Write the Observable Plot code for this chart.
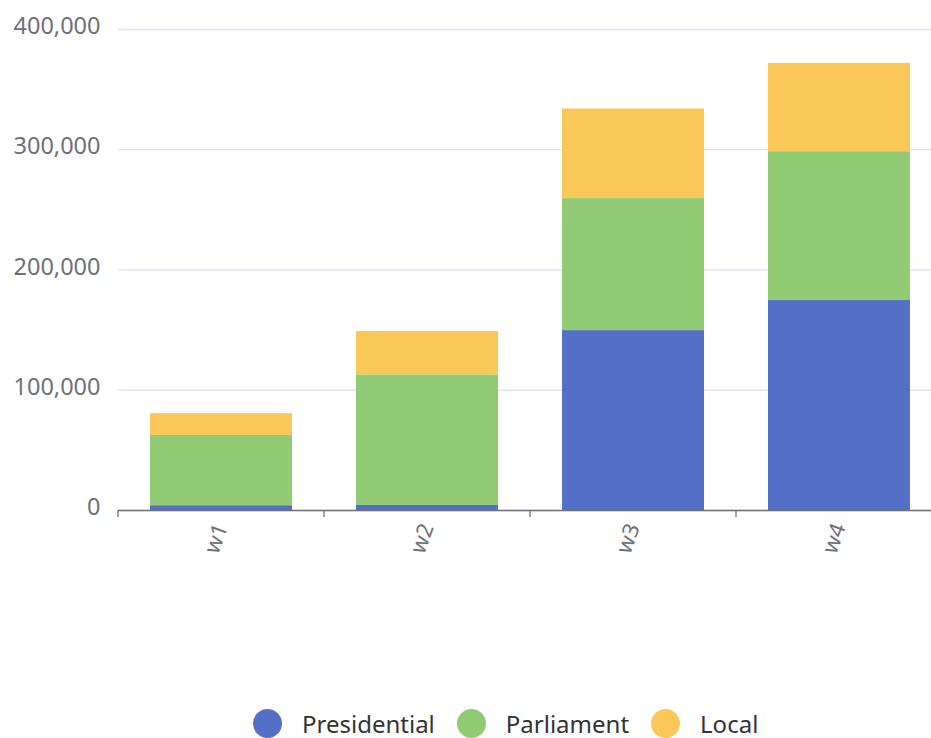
<!DOCTYPE html>
<html>
<head>
<meta charset="utf-8">
<script src="https://cdn.jsdelivr.net/npm/d3@7"></script>
<script src="https://cdn.jsdelivr.net/npm/@observablehq/plot@0.6"></script>
<style>
  html, body { margin: 0; padding: 0; background: #fff; overflow: hidden; }
  body { width: 931px; height: 738px; position: relative; font-family: "Noto Sans", sans-serif; }
  #legend { position: absolute; left: 253px; top: 709px; height: 29px; display: flex; align-items: center; font-size: 24px; line-height: 24px; color: #333; }
  .item { display: flex; align-items: center; margin-right: 22px; }
  .dot { width: 29px; height: 29px; border-radius: 50%; margin-right: 20px; flex: none; }
</style>
</head>
<body>
<div id="chart"></div>
<div id="legend"></div>
<script>
const categories = ["w1", "w2", "w3", "w4"];
const seriesNames = ["Presidential", "Parliament", "Local"];
const seriesColors = ["#5470c6", "#91cc75", "#fac858"];
const presidential = [4000, 4200, 149600, 174600];
const parliament = [58400, 108600, 109800, 123800];
const local = [18100, 36000, 74500, 73400];
const yTicks = [0, 100000, 200000, 300000, 400000];

const seriesValues = [presidential, parliament, local];
const data = [];
seriesNames.forEach((s, si) => {
  categories.forEach((c, ci) => data.push({week: c, series: s, value: seriesValues[si][ci]}));
});

const boundaryTicks = (index, scales, values, dimensions) => {
  const x = scales.x;
  const xs = categories.map(c => x(c));
  const step = xs[1] - xs[0];
  let bw = typeof x.bandwidth === "function" ? x.bandwidth() : x.bandwidth;
  if (!(bw > 0)) bw = step * 0.69;
  const g = d3.create("svg:g");
  const y0 = scales.y(0);
  xs.forEach(xv => {
    const bx = xv - (step - bw) / 2;
    g.append("line").attr("x1", bx).attr("x2", bx).attr("y1", y0).attr("y2", y0 + 7)
      .attr("stroke", "#6e7079").attr("stroke-width", 1.3);
  });
  return g.node();
};

const chart = Plot.plot({
  width: 931,
  height: 600,
  marginTop: 29,
  marginBottom: 90,
  marginLeft: 118,
  marginRight: -11,
  style: {fontFamily: "Noto Sans, sans-serif", fontSize: "22px", color: "#6e7079", background: "#fff"},
  x: {domain: categories, paddingInner: 0.31, paddingOuter: 0.155, label: null},
  y: {domain: [0, 400000], label: null},
  color: {domain: seriesNames, range: seriesColors},
  marks: [
    Plot.gridY(yTicks, {stroke: "#e0e6f1", strokeOpacity: 1, strokeWidth: 1.3}),
    Plot.barY(data, {x: "week", y: "value", fill: "series", order: seriesNames}),
    Plot.ruleY([0], {stroke: "#6e7079", strokeWidth: 1.3}),
    boundaryTicks,
    Plot.axisY(yTicks, {tickSize: 0, tickPadding: 18, tickFormat: d3.format(","), fontSize: 23.5, fill: "#6e7079", dy: -3, label: null}),
    Plot.axisX({tickSize: 0, tickPadding: 14, tickRotate: -70, fontSize: 22, fill: "#6e7079", label: null})
  ]
});
document.getElementById("chart").appendChild(chart);

const legend = document.getElementById("legend");
seriesNames.forEach((s, i) => {
  const item = document.createElement("div");
  item.className = "item";
  const dot = document.createElement("span");
  dot.className = "dot";
  dot.style.background = seriesColors[i];
  const label = document.createElement("span");
  label.textContent = s;
  item.appendChild(dot);
  item.appendChild(label);
  legend.appendChild(item);
});
</script>
</body>
</html>
